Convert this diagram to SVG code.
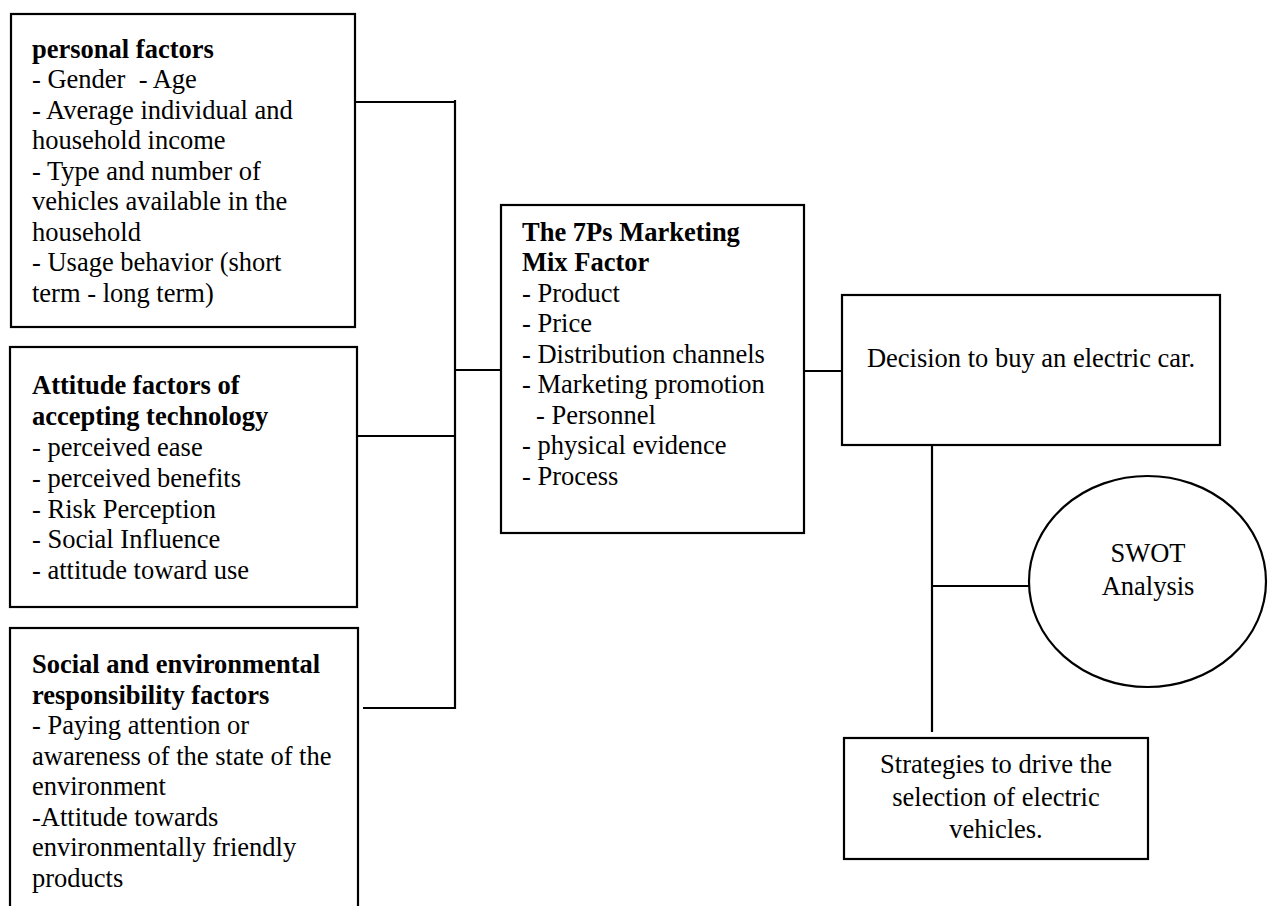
<svg xmlns="http://www.w3.org/2000/svg" width="1274" height="906" viewBox="0 0 1274 906" font-family="'Liberation Serif', 'Times New Roman', 'DejaVu Serif', serif" font-size="26.5">
<style>
.box{fill:#fff;stroke:#000;stroke-width:2.2}
.ln{stroke:#000;stroke-width:2.2;fill:none}
.b{font-weight:bold}
.c{text-anchor:middle}
</style>
<rect width="1274" height="906" fill="#fff"/>
<g id="connectors">
<line class="ln" x1="455" y1="100" x2="455" y2="709"/>
<line class="ln" x1="355" y1="102" x2="456" y2="102"/>
<line class="ln" x1="357" y1="436" x2="456" y2="436"/>
<line class="ln" x1="363" y1="708" x2="456" y2="708"/>
<line class="ln" x1="455" y1="370" x2="501" y2="370"/>
<line class="ln" x1="804" y1="371" x2="842" y2="371"/>
<line class="ln" x1="932" y1="445" x2="932" y2="732"/>
<line class="ln" x1="932" y1="586" x2="1029" y2="586"/>
</g>
<g id="personal">
<rect class="box" x="11" y="14" width="344" height="313"/>
<text x="32" y="57.5" class="b">personal factors</text>
<text x="32" y="88" xml:space="preserve">- Gender  - Age</text>
<text x="32" y="118.5">- Average individual and</text>
<text x="32" y="149">household income</text>
<text x="32" y="179.5">- Type and number of</text>
<text x="32" y="210">vehicles available in the</text>
<text x="32" y="240.5">household</text>
<text x="32" y="271">- Usage behavior (short</text>
<text x="32" y="301.5">term - long term)</text>
</g>
<g id="attitude">
<rect class="box" x="10" y="347" width="347" height="260"/>
<text x="32" y="394" class="b">Attitude factors of</text>
<text x="32" y="425" class="b">accepting technology</text>
<text x="32" y="456">- perceived ease</text>
<text x="32" y="487">- perceived benefits</text>
<text x="32" y="517.5">- Risk Perception</text>
<text x="32" y="548">- Social Influence</text>
<text x="32" y="579">- attitude toward use</text>
</g>
<g id="social">
<rect class="box" x="10" y="628" width="348" height="290"/>
<text x="32" y="673" class="b">Social and environmental</text>
<text x="32" y="703.5" class="b">responsibility factors</text>
<text x="32" y="734">- Paying attention or</text>
<text x="32" y="764.5">awareness of the state of the</text>
<text x="32" y="795">environment</text>
<text x="32" y="825.5">-Attitude towards</text>
<text x="32" y="856">environmentally friendly</text>
<text x="32" y="886.5">products</text>
</g>
<g id="marketing">
<rect class="box" x="501" y="205" width="303" height="328"/>
<text x="522" y="240.5" class="b">The 7Ps Marketing</text>
<text x="522" y="271" class="b">Mix Factor</text>
<text x="522" y="301.5">- Product</text>
<text x="522" y="332">- Price</text>
<text x="522" y="362.5">- Distribution channels</text>
<text x="522" y="393">- Marketing promotion</text>
<text x="536" y="423.5">- Personnel</text>
<text x="522" y="454">- physical evidence</text>
<text x="522" y="484.5">- Process</text>
</g>
<g id="decision">
<rect class="box" x="842" y="295" width="378" height="150"/>
<text x="1031" y="367" class="c">Decision to buy an electric car.</text>
</g>
<g id="swot">
<ellipse class="box" cx="1147.5" cy="581.5" rx="118.5" ry="105.5"/>
<text x="1148" y="562" class="c">SWOT</text>
<text x="1148" y="595" class="c">Analysis</text>
</g>
<g id="strategies">
<rect class="box" x="844" y="738" width="304" height="121"/>
<text x="996" y="773" class="c">Strategies to drive the</text>
<text x="996" y="805.5" class="c">selection of electric</text>
<text x="996" y="838" class="c">vehicles.</text>
</g>
</svg>
